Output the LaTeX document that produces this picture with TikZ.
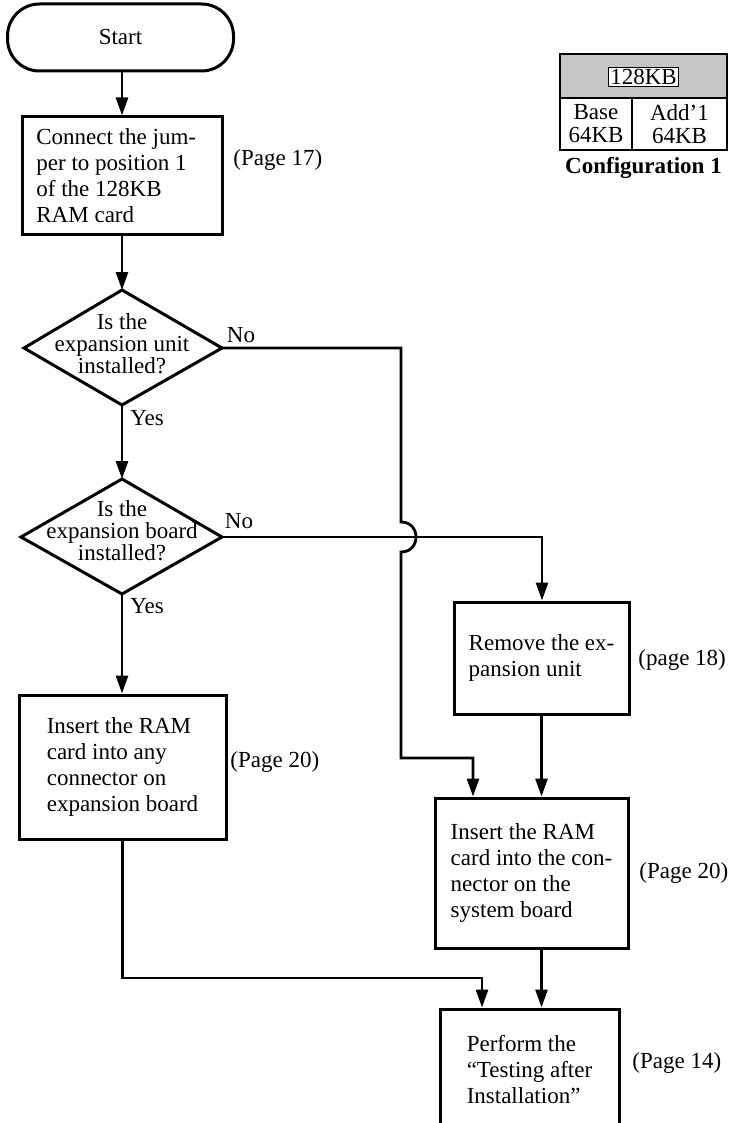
\documentclass[tikz,border=0pt]{standalone}
\usepackage{fontspec}
\setmainfont{Liberation Serif}
\usetikzlibrary{arrows.meta}
\begin{document}
\begin{tikzpicture}[x=1pt,y=-1pt,
  line width=2.8pt,
  every node/.style={font=\fontsize{23}{26}\selectfont, inner sep=0pt},
  proc/.style={draw, line width=3pt, align=left, font=\fontsize{23}{26}\selectfont},
  dtext/.style={align=center, font=\fontsize{23}{22}\selectfont},
  dshape/.style={line width=3pt},
  lbl/.style={anchor=west},
  arr/.style={-{Triangle[length=18pt,width=12pt]}},
  cfgtext/.style={align=center, font=\fontsize{23}{23}\selectfont},
]
\useasboundingbox (0,0) rectangle (735,1123);

% start
\node[draw, line width=3pt, rounded corners=32pt, minimum width=226pt, minimum height=67pt] (start) at (120.5,37.5) {Start};

% box 1
\node[proc, minimum width=200pt, minimum height=118pt] (b1) at (122,176) {};
\node[align=left, anchor=west] (b1t) at (35,176) {Connect the jum-\\per to position 1\\of the 128KB\\RAM card};
\node[lbl] (p17) at (232,160) {(Page 17)};

% diamond 1
\coordinate (d1n) at (122,290);
\coordinate (d1e) at (222,348);
\coordinate (d1s) at (122,405);
\coordinate (d1w) at (24,348);
\draw[dshape] (d1n) -- (d1e) -- (d1s) -- (d1w) -- cycle;
\node[dtext] (d1) at (122,344) {Is the\\expansion unit\\installed?};
\node (no1) at (241,335) {No};
\node (yes1) at (147,418) {Yes};

% diamond 2
\coordinate (d2n) at (122,479);
\coordinate (d2e) at (222,537);
\coordinate (d2s) at (122,594);
\coordinate (d2w) at (21,537);
\draw[dshape] (d2n) -- (d2e) -- (d2s) -- (d2w) -- cycle;
\node[dtext] (d2) at (122,531) {Is the\\expansion board\\installed?};
\node (no2) at (239,521) {No};
\node (yes2) at (147,606) {Yes};

% remove box
\node[proc, minimum width=175pt, minimum height=112pt] (rm) at (541.5,658) {Remove the ex-\\pansion unit};
\node[lbl] (p18) at (637,660) {(page 18)};

% box 3 (left insert)
\node[proc, minimum width=207pt, minimum height=144pt] (b3) at (122.5,767) {Insert the RAM\\card into any\\connector on\\expansion board};
\node[lbl] (p20a) at (229,762) {(Page 20)};

% box 2 (system board insert)
\node[proc, minimum width=193pt, minimum height=150pt] (b2) at (531.5,873) {Insert the RAM\\card into the con-\\nector on the\\system board};
\node[lbl] (p20b) at (638,873) {(Page 20)};

% final box
\node[proc, minimum width=179pt, minimum height=122pt] (b4) at (529.5,1070) {Perform the\\\textquotedblleft Testing after\\Installation\textquotedblright};
\node[lbl] (p14) at (631,1063) {(Page 14)};

% connectors
\draw[arr] (start.south -| b1.north) -- (b1.north);
\draw[arr] (b1.south) -- (d1n);
\draw[arr] (d1s) -- (d2n);
\draw[arr] (d2s) -- (d2s |- b3.north);

\coordinate (c2) at (542,537);
\draw[arr] (d2e) -- (c2) -- (c2 |- rm.north);

\coordinate (j1) at (401,348);
\coordinate (h1) at (401,522);
\coordinate (h2) at (401,552);
\coordinate (j2) at (401,758);
\coordinate (j3) at (473,758);
\draw[arr] (d1e) -- (j1) -- (h1) .. controls (421,522) and (421,552) .. (h2) -- (j2) -- (j3) -- (j3 |- b2.north);

\coordinate (m2) at (541.5,0);
\draw[arr] (rm.south) -- (rm.south |- b2.north);
\draw[arr] (b2.south -| m2) -- (b4.north -| m2);

\coordinate (k1) at (122.5,978);
\coordinate (k2) at (482,978);
\draw[arr] (b3.south) -- (k1) -- (k2) -- (k2 |- b4.north);

% configuration box
\fill[gray!45] (560,54) rectangle (727,98);
\draw[line width=1.8pt] (560,54) rectangle (727,150);
\draw[line width=1.8pt] (560,98) -- (727,98);
\draw[line width=1.8pt] (632,98) -- (632,150);
\node[fill=white, draw, line width=0.8pt, inner sep=1.5pt] (kb) at (643.5,77) {128KB};
\node[cfgtext] (base) at (596,124) {Base\\64KB};
\node[cfgtext] (add) at (679.5,124) {Add’1\\64KB};
\node[font=\fontsize{23}{23}\selectfont\bfseries] (conf) at (643.5,168) {Configuration 1};
\end{tikzpicture}
\end{document}
